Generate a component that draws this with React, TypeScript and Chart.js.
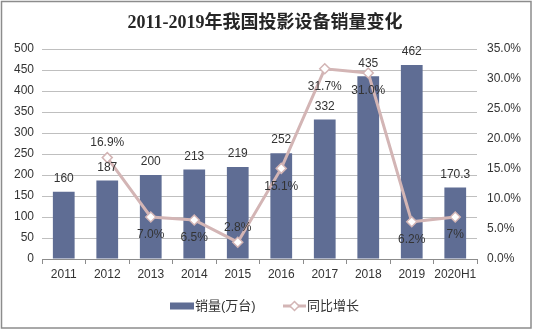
import React, { useEffect, useRef } from "react";
import { Chart, registerables } from "chart.js";

Chart.register(...registerables);

const titleText = "2011-2019年我国投影设备销量变化";
const categories = ["2011", "2012", "2013", "2014", "2015", "2016", "2017", "2018", "2019", "2020H1"];
const salesValues = [160, 187, 200, 213, 219, 252, 332, 435, 462, 170.3];
const salesLabels = ["160", "187", "200", "213", "219", "252", "332", "435", "462", "170.3"];
const growthValues: (number | null)[] = [null, 16.9, 7.0, 6.5, 2.8, 15.1, 31.7, 31.0, 6.2, 7];
const growthLabels = ["", "16.9%", "7.0%", "6.5%", "2.8%", "15.1%", "31.7%", "31.0%", "6.2%", "7%"];
const growthLabelPos = ["", "above", "below", "below", "above", "below", "below", "below", "below", "below"];
const salesName = "销量(万台)";
const growthName = "同比增长";

const BAR_COLOR = "#5f6d94";
const LINE_COLOR = "#d3b5b5";
const TEXT_COLOR = "#333333";
const SANS = "Arial, 'Liberation Sans', 'Noto Sans CJK SC', sans-serif";

const decorPlugin = {
  id: "decor",
  afterDatasetsDraw(chart: any) {
    const ctx = chart.ctx;
    ctx.save();
    const barMeta = chart.getDatasetMeta(0);
    ctx.font = "12px " + SANS;
    ctx.fillStyle = TEXT_COLOR;
    ctx.textAlign = "center";
    ctx.textBaseline = "middle";
    barMeta.data.forEach((el: any, i: number) => {
      ctx.fillText(salesLabels[i], el.x, el.y - 13);
    });
    const lineMeta = chart.getDatasetMeta(1);
    lineMeta.data.forEach((el: any, i: number) => {
      if (growthValues[i] === null) return;
      const dy = growthLabelPos[i] === "above" ? -15 : 18;
      ctx.fillText(growthLabels[i], el.x, el.y + dy);
    });
    ctx.restore();
  },
  afterDraw(chart: any) {
    const ctx = chart.ctx;
    ctx.save();
    ctx.strokeStyle = "#8c8c8c";
    ctx.lineWidth = 1.5;
    ctx.strokeRect(1.5, 1.5, 529.5, 326.5);
    ctx.fillStyle = "#262626";
    ctx.font = "bold 18px 'Liberation Serif', 'Noto Sans CJK SC', serif";
    ctx.textAlign = "center";
    ctx.textBaseline = "middle";
    ctx.fillText(titleText, 265, 23);
    const ly = 306;
    ctx.font = "13px " + SANS;
    ctx.textBaseline = "middle";
    ctx.textAlign = "left";
    ctx.fillStyle = BAR_COLOR;
    ctx.fillRect(170, ly - 3.5, 24, 7);
    ctx.fillStyle = TEXT_COLOR;
    ctx.fillText(salesName, 195, ly);
    ctx.strokeStyle = LINE_COLOR;
    ctx.lineWidth = 3;
    ctx.beginPath();
    ctx.moveTo(283, ly);
    ctx.lineTo(306, ly);
    ctx.stroke();
    ctx.fillStyle = "#ffffff";
    ctx.lineWidth = 1.5;
    ctx.beginPath();
    ctx.moveTo(294.5, ly - 4.5);
    ctx.lineTo(299, ly);
    ctx.lineTo(294.5, ly + 4.5);
    ctx.lineTo(290, ly);
    ctx.closePath();
    ctx.fill();
    ctx.stroke();
    ctx.fillStyle = TEXT_COLOR;
    ctx.fillText(growthName, 307, ly);
    ctx.restore();
  },
};

export default function App() {
  const ref = useRef<HTMLCanvasElement | null>(null);
  useEffect(() => {
    if (!ref.current) return;
    const chart = new Chart(ref.current, {
      type: "bar",
      data: {
        labels: categories,
        datasets: [
          {
            type: "bar",
            label: salesName,
            data: salesValues,
            backgroundColor: BAR_COLOR,
            barPercentage: 0.5,
            categoryPercentage: 1,
            yAxisID: "y",
            order: 2,
          },
          {
            type: "line",
            label: growthName,
            data: growthValues as any,
            borderColor: LINE_COLOR,
            borderWidth: 3,
            pointStyle: "rectRot",
            pointRadius: 5,
            pointBackgroundColor: "#ffffff",
            pointBorderColor: LINE_COLOR,
            pointBorderWidth: 1.5,
            yAxisID: "y1",
            order: 1,
          } as any,
        ],
      },
      options: {
        responsive: false,
        animation: false,
        layout: { padding: { top: 49, left: 0, right: 0, bottom: 0 } },
        plugins: {
          legend: { display: false },
          title: { display: false },
          tooltip: { enabled: false },
        },
        scales: {
          x: {
            grid: {
              offset: true,
              drawOnChartArea: false,
              drawTicks: true,
              tickLength: 5,
              color: "#8c8c8c",
            },
            border: { display: true, color: "#8c8c8c" },
            ticks: {
              font: { size: 12, family: SANS },
              color: TEXT_COLOR,
              padding: 3,
              maxRotation: 0,
              autoSkip: false,
            },
            afterFit(scale: any) {
              scale.height = 333 - 259;
            },
          },
          y: {
            position: "left",
            min: 0,
            max: 500,
            ticks: {
              stepSize: 50,
              font: { size: 12, family: SANS },
              color: TEXT_COLOR,
              padding: 8,
            },
            grid: { color: "#bfbfbf", drawTicks: false },
            border: { display: false },
            afterFit(scale: any) {
              scale.width = 42;
            },
          },
          y1: {
            position: "right",
            min: 0,
            max: 35,
            ticks: {
              stepSize: 5,
              font: { size: 12, family: SANS },
              color: TEXT_COLOR,
              padding: 10,
              callback: (v: any) => Number(v).toFixed(1) + "%",
            },
            grid: {
              drawOnChartArea: false,
              drawTicks: false,
            },
            border: { display: false },
            afterFit(scale: any) {
              scale.width = 533 - 477;
            },
          },
        },
      },
      plugins: [decorPlugin],
    });
    return () => chart.destroy();
  }, []);
  return (
    <div style={{ position: "fixed", left: 0, top: 0, width: 533, height: 333, background: "#ffffff" }}>
      <canvas ref={ref} width={533} height={333} style={{ display: "block" }} />
    </div>
  );
}
